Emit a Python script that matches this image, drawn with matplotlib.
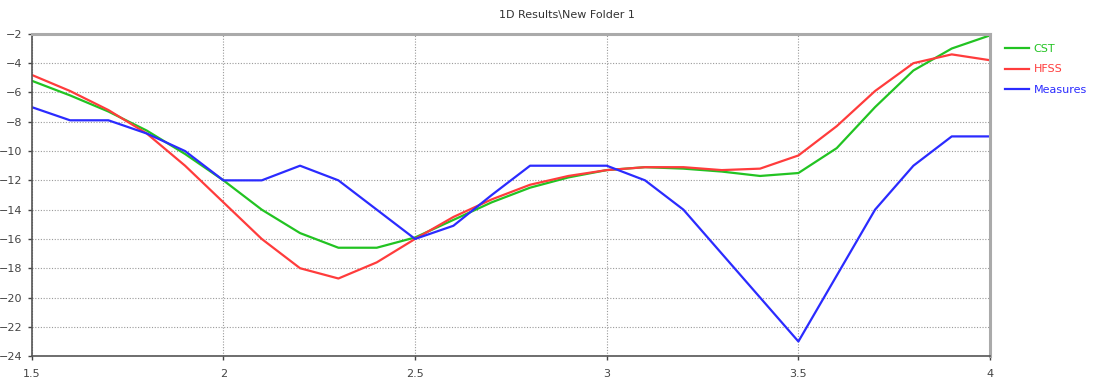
import matplotlib.pyplot as plt

freq = [1.5, 1.6, 1.7, 1.8, 1.9, 2.0, 2.1, 2.2, 2.3, 2.4, 2.5, 2.6, 2.7,
        2.8, 2.9, 3.0, 3.1, 3.2, 3.3, 3.4, 3.5, 3.6, 3.7, 3.8, 3.9, 4.0]

cst = [-5.2, -6.2, -7.3, -8.6, -10.2, -12.0, -14.0, -15.6, -16.6, -16.6,
       -15.9, -14.7, -13.5, -12.5, -11.8, -11.3, -11.1, -11.2, -11.4, -11.7,
       -11.5, -9.8, -7.0, -4.5, -3.0, -2.1]

hfss = [-4.8, -5.9, -7.2, -8.8, -11.0, -13.5, -16.0, -18.0, -18.7, -17.6,
        -16.0, -14.5, -13.3, -12.3, -11.7, -11.3, -11.1, -11.1, -11.3, -11.2,
        -10.3, -8.3, -5.9, -4.0, -3.4, -3.8]

measures = [-7.0, -7.9, -7.9, -8.8, -10.0, -12.0, -12.0, -11.0, -12.0, -14.0,
            -16.0, -15.1, -13.0, -11.0, -11.0, -11.0, -12.0, -14.0, -17.0, -20.0,
            -23.0, -18.5, -14.0, -11.0, -9.0, -9.0]

xticks = [1.5, 2, 2.5, 3, 3.5, 4]
xtick_labels = ["1.5", "2", "2.5", "3", "3.5", "4"]
yticks = list(range(-24, -1, 2))

fig = plt.figure(figsize=(10.94, 3.85), dpi=100)
ax = fig.add_axes([0.029, 0.075, 0.876, 0.837])

ax.plot(freq, cst, color="#22c322", lw=1.6, label="CST")
ax.plot(freq, hfss, color="#ff3c3c", lw=1.6, label="HFSS")
ax.plot(freq, measures, color="#2b2bff", lw=1.6, label="Measures")

ax.set_xlim(1.5, 4)
ax.set_ylim(-24, -2)
ax.set_xticks(xticks)
ax.set_xticklabels(xtick_labels)
ax.set_yticks(yticks)
ax.tick_params(labelsize=8, colors="#444444", length=3, width=1)
ax.tick_params(axis="x", pad=6)
ax.grid(True, color="#9a9a9a", linestyle=(0, (1, 1.5)), linewidth=0.8)

for side in ["left", "bottom"]:
    ax.spines[side].set_color("#555555")
    ax.spines[side].set_linewidth(1.2)
for side in ["top", "right"]:
    ax.spines[side].set_color("#aaaaaa")
    ax.spines[side].set_linewidth(2.2)

fig.text(0.518, 0.96, "1D Results\\New Folder 1", ha="center", va="center",
         fontsize=8, color="#333333")

leg = ax.legend(loc="upper left", bbox_to_anchor=(1.005, 1.0), frameon=False,
                fontsize=8, handlelength=2.2, handletextpad=0.4, labelspacing=0.95)
for text, line in zip(leg.get_texts(), leg.get_lines()):
    text.set_color(line.get_color())

plt.savefig("out.png", dpi=100)
